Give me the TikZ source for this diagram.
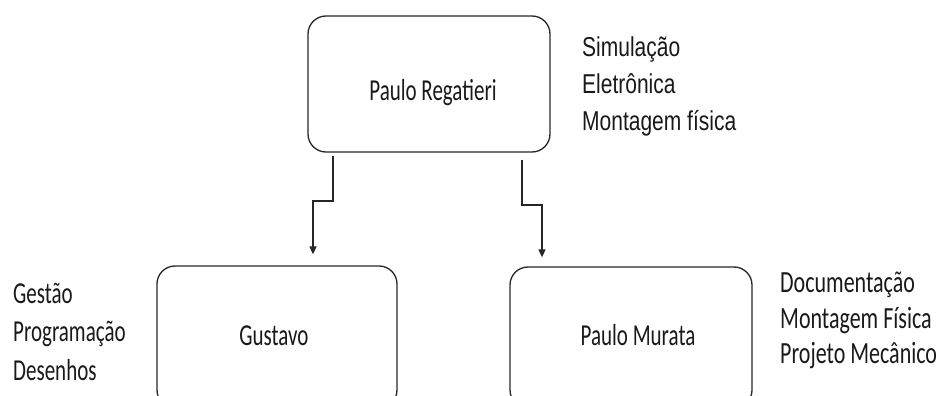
\documentclass[tikz,border=0pt]{standalone}
\usepackage{fontspec}
\usepackage{graphicx}
\setmainfont{Carlito}
\newfontfamily\arialfont{Liberation Sans}
\usetikzlibrary{arrows.meta}
\newcommand{\vstretch}[2]{\scalebox{1}[#1]{#2}}
\tikzset{
  box/.style={draw=black!85, line width=1.3pt, rounded corners=18pt, inner sep=0pt},
  lbl/.style={inner sep=0pt, text=black!90, font=\fontsize{21}{25}\selectfont},
  side/.style={inner sep=0pt, anchor=base west, text=black!90, font=\fontsize{21}{25}\selectfont},
  sidearial/.style={inner sep=0pt, anchor=base west, text=black!90, font=\arialfont\fontsize{21}{25}\selectfont},
  conn/.style={draw=black!85, line width=1.3pt, -{Triangle[length=8pt,width=7pt]}}
}
\begin{document}
\begin{tikzpicture}[x=1pt, y=-1pt]
\useasboundingbox (0,0) rectangle (946,396);
\clip (0,0) rectangle (946,396);
% boxes
\node[box, minimum width=242pt, minimum height=136pt] (pr) at (429,84) {};
\node[box, minimum width=240pt, minimum height=142pt] (gu) at (277,337) {};
\node[box, minimum width=242pt, minimum height=141pt] (pm) at (631,337.5) {};
% box labels
\node[lbl, anchor=base] (prt) at (433,100) {\vstretch{1.45}{Paulo Regatieri}};
\node[lbl, anchor=base] (gut) at (274,345) {\vstretch{1.45}{Gustavo}};
\node[lbl, anchor=base] (pmt) at (638,345) {\vstretch{1.45}{Paulo Murata}};
% side texts
\node[sidearial] (s1) at (582,57) {\vstretch{1.3}{Simulação}};
\node[sidearial] (s2) at (582,94) {\vstretch{1.3}{Eletrônica}};
\node[sidearial] (s3) at (582,130) {\vstretch{1.3}{Montagem física}};
\node[side] (g1) at (13,303) {\vstretch{1.45}{Gestão}};
\node[side] (g2) at (13,341) {\vstretch{1.45}{Programação}};
\node[side] (g3) at (13,380) {\vstretch{1.45}{Desenhos}};
\node[side, font=\fontsize{22}{26}\selectfont] (m1) at (780,292) {\vstretch{1.4}{Documentação}};
\node[side, font=\fontsize{22}{26}\selectfont] (m2) at (780,328) {\vstretch{1.4}{Montagem Física}};
\node[side, font=\fontsize{22}{26}\selectfont] (m3) at (780,363) {\vstretch{1.4}{Projeto Mecânico}};
% connectors
\coordinate (l1) at (333,201);
\coordinate (l2) at (313,201);
\coordinate (r1) at (522,205);
\coordinate (r2) at (542,205);
\draw[conn, shorten <=3pt, shorten >=11pt] (pr.south -| l1) -- (l1) -- (l2) -- (gu.north -| l2);
\draw[conn, shorten <=7pt, shorten >=9pt] (pr.south -| r1) -- (r1) -- (r2) -- (pm.north -| r2);
\end{tikzpicture}
\end{document}
